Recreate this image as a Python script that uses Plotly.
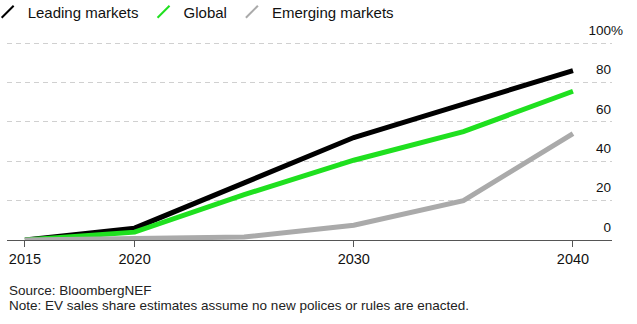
import plotly.graph_objects as go

years = [2015, 2020, 2025, 2030, 2035, 2040]
leading = [0, 6, 29, 52, 69, 86]
global_ = [0, 4, 23, 40.5, 55, 75.5]
emerging = [0, 0.5, 1.5, 7.5, 20, 54]

series_names = ["Leading markets", "Global", "Emerging markets"]
series_values = [leading, global_, emerging]
series_colors = ["#000000", "#1fe01f", "#aaaaaa"]

x_ticks = [2015, 2020, 2030, 2040]
y_ticks = [0, 20, 40, 60, 80, 100]
y_ticktext = ["0", "20", "40", "60", "80", "100%"]
hidden = "<span style='color:rgba(0,0,0,0)'>%</span>"
y_ticktext_padded = [t if t.endswith("%") else t + hidden for t in y_ticktext]

source_lines = ["Source: BloombergNEF",
                "Note: EV sales share estimates assume no new polices or rules are enacted."]

fig = go.Figure()
for name, vals, col in zip(series_names, series_values, series_colors):
    fig.add_trace(go.Scatter(x=years, y=vals, mode="lines", name=name,
                             line=dict(color=col, width=5), showlegend=False,
                             cliponaxis=False))
for name, col in zip(series_names, series_colors):
    fig.add_trace(go.Scatter(x=[None], y=[None], mode="markers", name=name,
                             marker=dict(symbol="line-ne", size=12,
                                         line=dict(color=col, width=4.5))))

font_family = "Liberation Sans, Arial, sans-serif"
PLOT_BOTTOM = 240
PLOT_TOP = 16
PLOT_H = PLOT_BOTTOM - PLOT_TOP
Y_TOP = 100 * PLOT_H / (PLOT_BOTTOM - 43)


def paper_y(px):
    return (PLOT_BOTTOM - px) / PLOT_H


fig.update_layout(
    width=637, height=324,
    margin=dict(l=7, r=25, t=PLOT_TOP, b=324 - PLOT_BOTTOM, autoexpand=False),
    paper_bgcolor="white", plot_bgcolor="white",
    font=dict(family=font_family, color="#111111"),
    legend=dict(orientation="h", x=-0.032, y=paper_y(12), xanchor="left",
                yanchor="middle", font=dict(size=15, color="#111111"),
                itemwidth=30, tracegroupgap=0, itemsizing="constant",
                bgcolor="rgba(0,0,0,0)"),
    xaxis=dict(range=[2014.18, 2041.78], tickvals=x_ticks, ticks="outside",
               ticklen=6, tickcolor="#555555", showline=True, linecolor="#555555",
               linewidth=1, showgrid=False, zeroline=False,
               tickfont=dict(size=14.5, color="#111111")),
    yaxis=dict(range=[0, Y_TOP], tickvals=y_ticks, ticktext=y_ticktext_padded,
               side="right", ticklabelposition="inside", ticklabelshift=-13,
               ticklabelstandoff=-14,
               showgrid=True, gridcolor="#d0d0d0", griddash="5px,4px", gridwidth=1,
               zeroline=False, showline=False, ticks="",
               tickfont=dict(size=13.5, color="#111111")),
    annotations=[
        dict(text=source_lines[0], x=0, xref="paper", y=paper_y(290),
             yref="paper", showarrow=False, xanchor="left", yanchor="middle",
             font=dict(size=13.5, color="#222222")),
        dict(text=source_lines[1], x=0, xref="paper", y=paper_y(305),
             yref="paper", showarrow=False, xanchor="left", yanchor="middle",
             font=dict(size=13.5, color="#222222")),
    ],
)

fig.write_html("out.html")
